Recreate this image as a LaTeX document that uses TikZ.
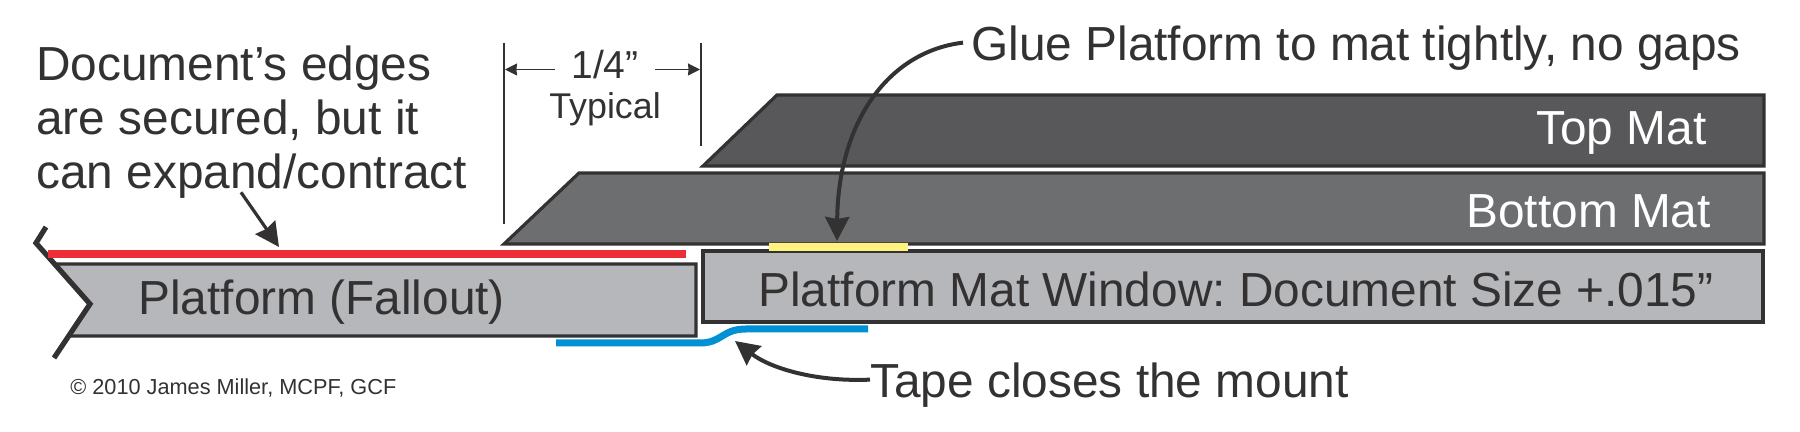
\documentclass[tikz,border=0pt]{standalone}
\usepackage{fontspec}
\setmainfont{Liberation Sans}
\frenchspacing
\usetikzlibrary{positioning,calc,arrows.meta}
\definecolor{inkdark}{HTML}{333132}
\definecolor{topmat}{HTML}{58585A}
\definecolor{botmat}{HTML}{6D6E70}
\definecolor{board}{HTML}{B6B7BA}
\definecolor{hingered}{HTML}{EE2E36}
\definecolor{gluey}{HTML}{FFF27F}
\definecolor{tapeb}{HTML}{0090D4}
\tikzstyle{big} = [inner sep=0pt,anchor=base west,text=inkdark,font=\fontsize{23.9}{28}\selectfont]
\tikzstyle{biglight} = [big,text=white]
\tikzstyle{mat} = [draw=inkdark,line width=1.6pt,line join=miter]
\tikzstyle{strip} = [line width=4pt]
\tikzstyle{dimline} = [draw=inkdark,line width=0.9pt]
\tikzstyle{dimto} = [-{Stealth[length=6pt,width=6pt,inset=0.3pt]},draw=inkdark,line width=0.8pt]
\tikzstyle{to} = [-{Stealth[length=12pt,width=12pt,inset=1pt]},draw=inkdark,line width=2pt]
\begin{document}
\begin{tikzpicture}[x=0.5pt,y=-0.5pt]
		\useasboundingbox (0,0) rectangle (1800,432);

		% mats and the two boards
		\draw[mat,fill=topmat] (703,166) -- (777,95) -- (1764,95) -- (1764,166) -- cycle;
		\draw[mat,fill=botmat] (504,244) -- (579,173) -- (1764,173) -- (1764,244) -- cycle;
		\draw[mat,fill=board] (703,251) rectangle (1763,322);
		\draw[mat,fill=board] (55,264) -- (696,264) -- (696,336) -- (69,336) -- (90,304) -- cycle;
		\draw[draw=inkdark,line width=2.6pt] (46,227) -- (36,243) -- (90,304) -- (54,358);

		% hinge, glue and tape
		\coordinate (redL) at (48,254);
		\coordinate (redR) at (686,254);
		\coordinate (glueL) at (769,247.5);
		\coordinate (glueR) at (908,247.5);
		\draw[strip,hingered] (redL) -- (redR);
		\draw[strip,gluey] (glueL) -- (glueR);
		\draw[line width=3.5pt,tapeb] (556,343) -- (700,343) .. controls (722,343) and (722,329) .. (746,329) -- (868,329);

		% 1/4 dimension
		\coordinate (dimL) at (504,43);
		\coordinate (dimLb) at (504,224);
		\coordinate (dimR) at (701,43);
		\coordinate (dimRb) at (701,146);
		\coordinate (tipL) at (505,69.5);
		\coordinate (tipR) at (700,69.5);
		\draw[dimline] (dimL) -- (dimLb);
		\draw[dimline] (dimR) -- (dimRb);
		\node (quarter) [big,anchor=base,inner xsep=8pt,font=\fontsize{19.5}{22}\selectfont] at (605,79) {1/4”};
		\node (typical) [big,anchor=base,font=\fontsize{17.9}{20}\selectfont] at (605,119) {Typical};
		\draw[dimto] (quarter.west |- tipL) -- (tipL);
		\draw[dimto] (quarter.east |- tipR) -- (tipR);

		% labels
		\node (note1) [big] at (36,81) {Document’s edges};
		\node (note2) [big] at (36,135) {are secured, but it};
		\node (note3) [big] at (36,189) {can expand/contract};
		\node (platform) [big] at (138,315) {Platform (Fallout)};
		\node (window) [big] at (758,307) {Platform Mat Window: Document Size +.015”};
		\node (top) [biglight] at (1536,145) {Top Mat};
		\node (bottom) [biglight] at (1466,228) {Bottom Mat};
		\node (glue) [big,inner xsep=4pt] at (963,61) {Glue Platform to mat tightly, no gaps};
		\node (tape) [big] at (870,398) {Tape closes the mount};
		\node (copy) [big,font=\fontsize{10.85}{13}\selectfont] at (70,395) {© 2010 James Miller, MCPF, GCF};

		% call-outs
		\coordinate (redtip) at (279,247);
		\coordinate (gluetip) at (837,241);
		\coordinate (tapetip) at (735,341);
		\draw[to,line width=1.6pt] ($(note3.south west)+(205,-7)$) -- (redtip);
		\draw[to] ([yshift=3pt]glue.west) .. controls (886,52) and (838,125) .. (gluetip);
		\draw[to] ([yshift=3pt]tape.west) .. controls (815,382) and (770,368) .. (tapetip);
\end{tikzpicture}
\end{document}
